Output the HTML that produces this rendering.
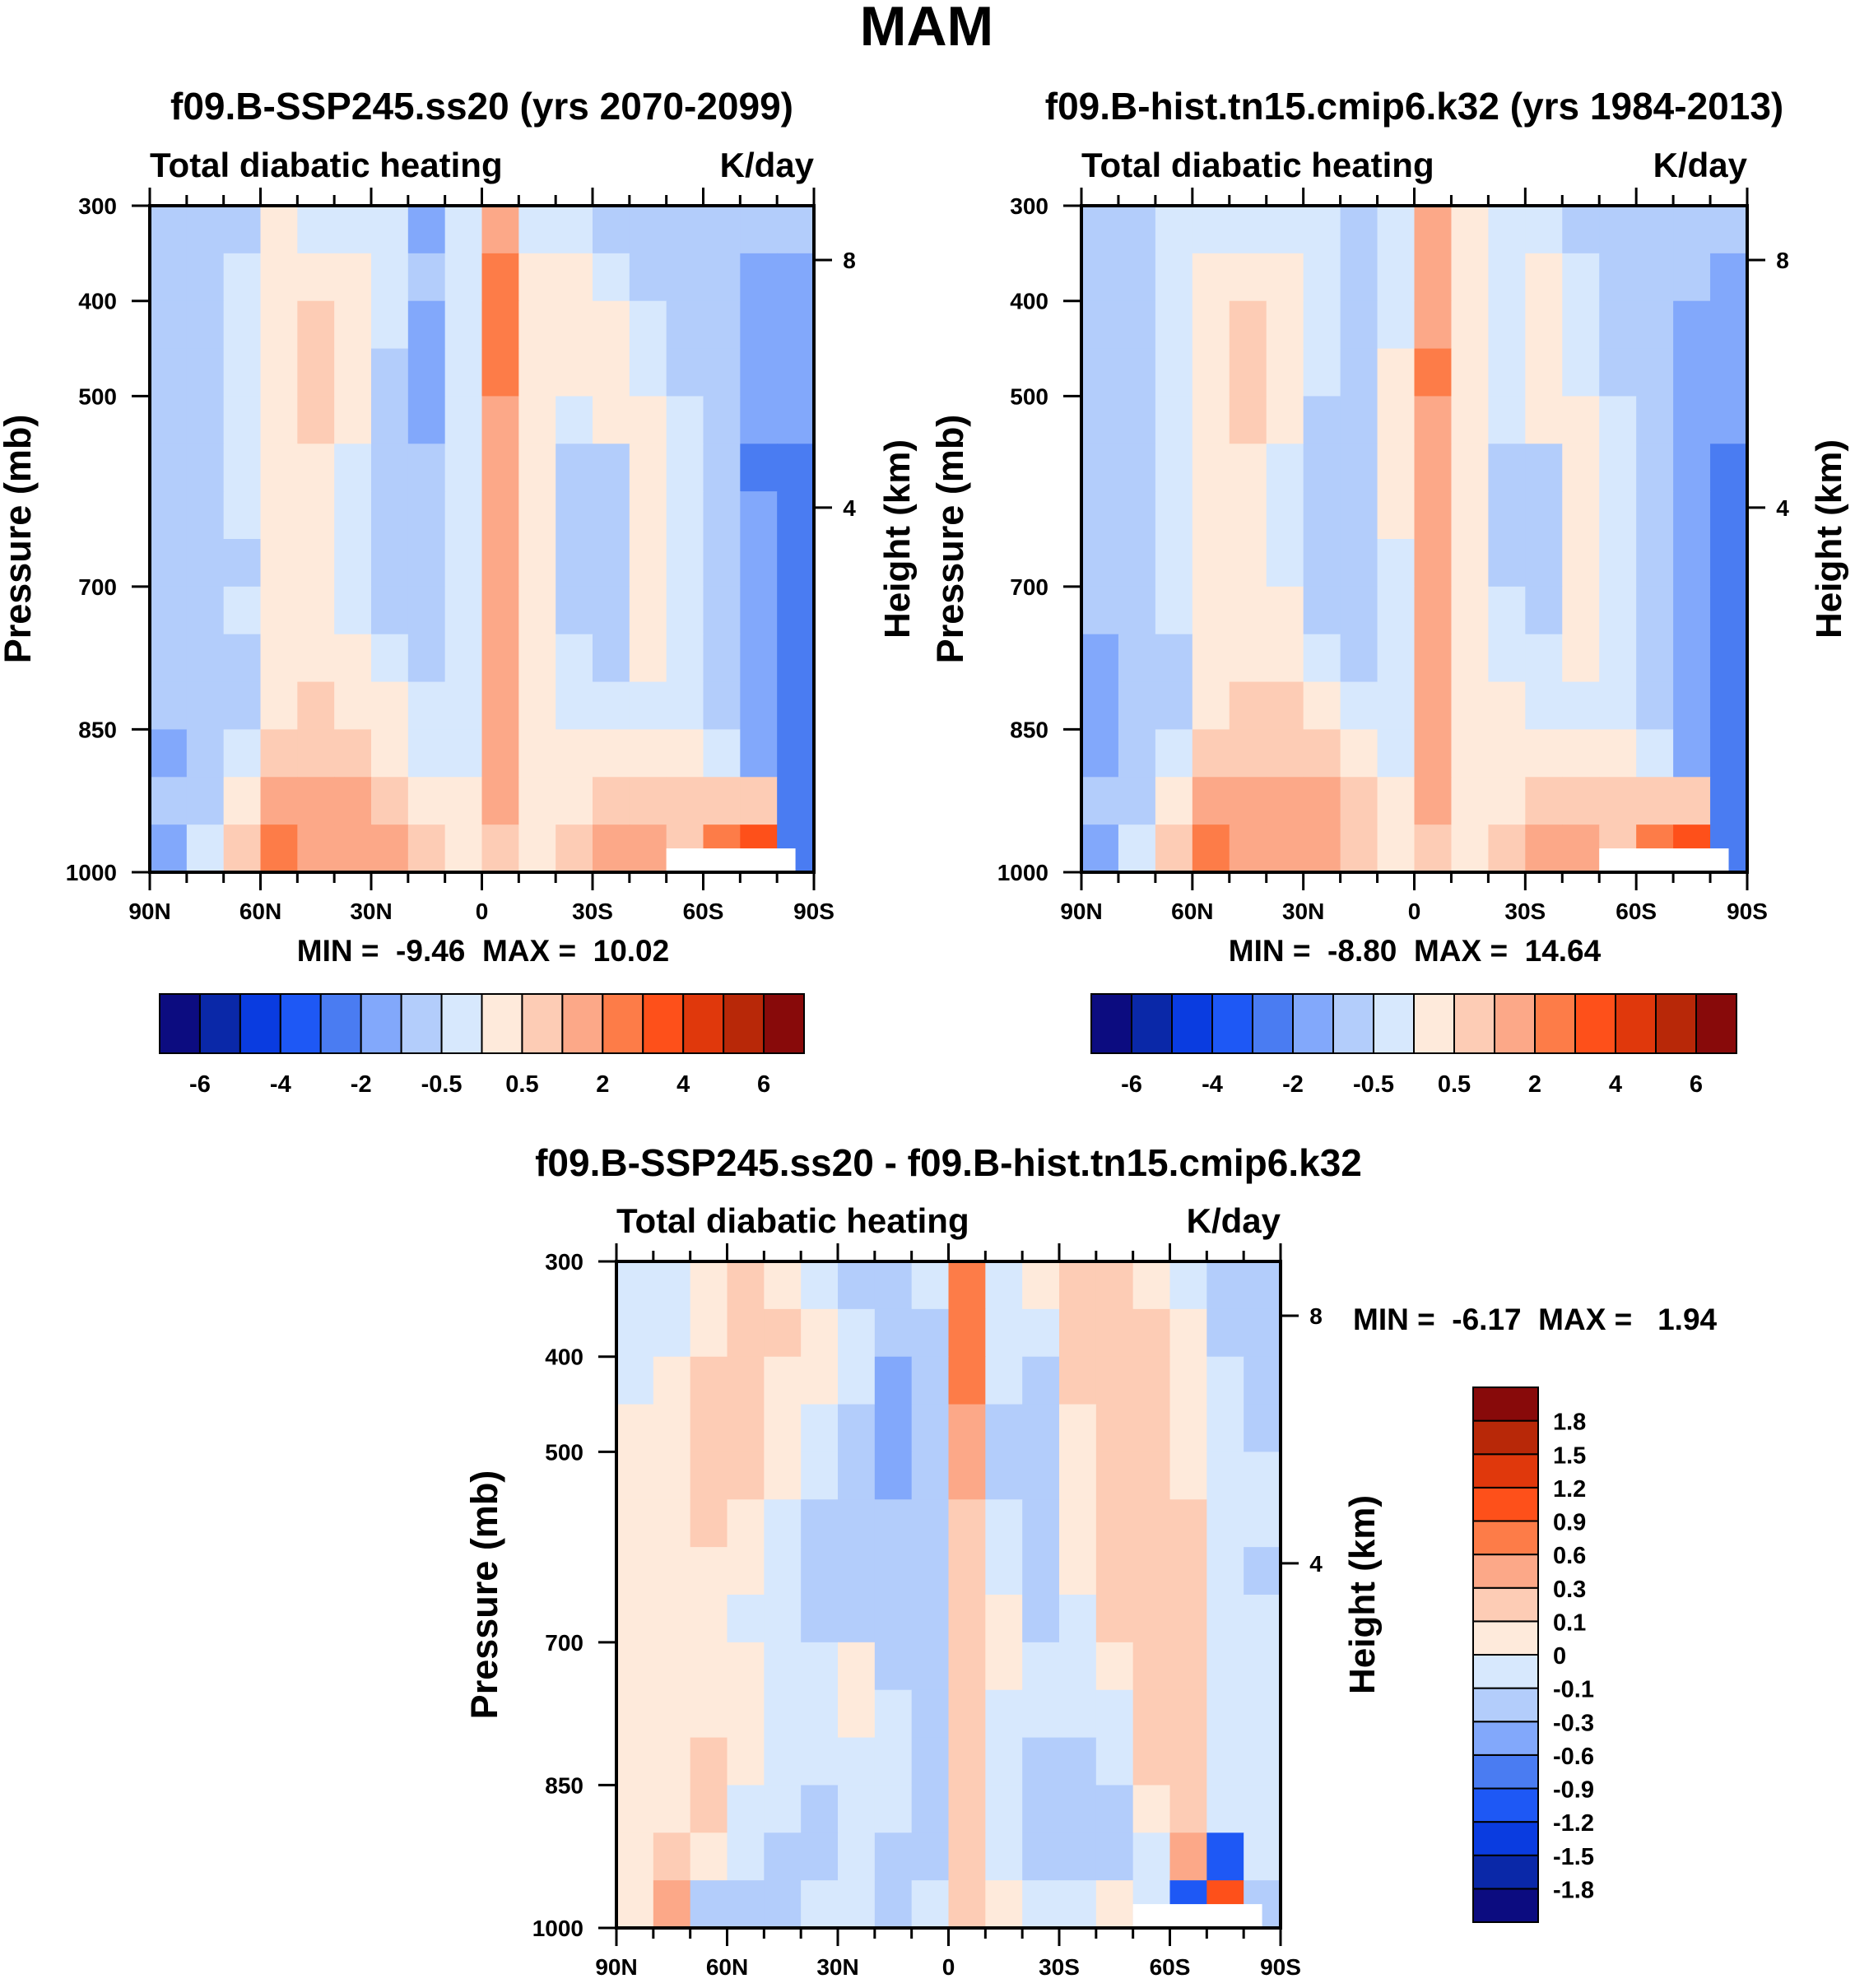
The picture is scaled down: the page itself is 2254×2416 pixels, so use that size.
<!DOCTYPE html>
<html><head><meta charset="utf-8"><style>
html,body{margin:0;padding:0;background:#fff}
svg{display:block}
text{font-family:"Liberation Sans",Arial,sans-serif;font-weight:bold;fill:#000}
</style></head><body>
<svg id="fig" width="2254" height="2416" viewBox="0 0 2254 2416" xmlns="http://www.w3.org/2000/svg">
<text x="1126" y="55" font-size="68" text-anchor="middle">MAM</text>
</svg>
<script>
// ---- data ----
const lats=[90,80,70,60,50,40,30,20,10,0,-10,-20,-30,-40,-50,-60,-70,-80,-90];
const levels=[300,350,400,450,500,550,600,650,700,750,800,850,900,950,1000];
const pTicks=[300,400,500,700,850,1000];
const latTickLabels=["90N","60N","30N","0","30S","60S","90S"];
const latTickVals=[90,60,30,0,-30,-60,-90];
const heightTicks=[{km:8,p:357},{km:4,p:617}];
const palette=["#0c0c80","#0a28a8","#0a3ce0","#1e58f5","#4a7cf2","#82a8fb","#b3cdfb","#d7e8fd","#feeadb","#fdccb5","#fca888","#fd7c48","#fe501a","#e0380c","#b82808","#880a0a"];
const absLevels=[-6,-5,-4,-3,-2,-1,-0.5,0,0.5,1,2,3,4,5,6];
const absLabels=["-6","-4","-2","-0.5","0.5","2","4","6"];
const diffLevels=[-1.8,-1.5,-1.2,-0.9,-0.6,-0.3,-0.1,0,0.1,0.3,0.6,0.9,1.2,1.5,1.8];
const diffLabels=["-1.8","-1.5","-1.2","-0.9","-0.6","-0.3","-0.1","0","0.1","0.3","0.6","0.9","1.2","1.5","1.8"];
const futVals=[
[-0.7,-0.7,-0.7,0.3,-0.3,-0.3,-0.3,-1.5,-0.3,1.5,-0.3,-0.3,-0.7,-0.7,-0.7,-0.7,-0.7,-0.7],
[-0.7,-0.7,-0.3,0.3,0.3,0.3,-0.3,-0.7,-0.3,2.5,0.3,0.3,-0.3,-0.7,-0.7,-0.7,-1.5,-1.5],
[-0.7,-0.7,-0.3,0.3,0.7,0.3,-0.3,-1.5,-0.3,2.5,0.3,0.3,0.3,-0.3,-0.7,-0.7,-1.5,-1.5],
[-0.7,-0.7,-0.3,0.3,0.7,0.3,-0.7,-1.5,-0.3,2.5,0.3,0.3,0.3,-0.3,-0.7,-0.7,-1.5,-1.5],
[-0.7,-0.7,-0.3,0.3,0.7,0.3,-0.7,-1.5,-0.3,1.5,0.3,-0.3,0.3,0.3,-0.3,-0.7,-1.5,-1.5],
[-0.7,-0.7,-0.3,0.3,0.3,-0.3,-0.7,-0.7,-0.3,1.5,0.3,-0.7,-0.7,0.3,-0.3,-0.7,-3,-3],
[-0.7,-0.7,-0.3,0.3,0.3,-0.3,-0.7,-0.7,-0.3,1.5,0.3,-0.7,-0.7,0.3,-0.3,-0.7,-1.5,-3],
[-0.7,-0.7,-0.7,0.3,0.3,-0.3,-0.7,-0.7,-0.3,1.5,0.3,-0.7,-0.7,0.3,-0.3,-0.7,-1.5,-3],
[-0.7,-0.7,-0.3,0.3,0.3,-0.3,-0.7,-0.7,-0.3,1.5,0.3,-0.7,-0.7,0.3,-0.3,-0.7,-1.5,-3],
[-0.7,-0.7,-0.7,0.3,0.3,0.3,-0.3,-0.7,-0.3,1.5,0.3,-0.3,-0.7,0.3,-0.3,-0.7,-1.5,-3],
[-0.7,-0.7,-0.7,0.3,0.7,0.3,0.3,-0.3,-0.3,1.5,0.3,-0.3,-0.3,-0.3,-0.3,-0.7,-1.5,-3],
[-1.5,-0.7,-0.3,0.7,0.7,0.7,0.3,-0.3,-0.3,1.5,0.3,0.3,0.3,0.3,0.3,-0.3,-1.5,-3],
[-0.7,-0.7,0.3,1.5,1.5,1.5,0.7,0.3,0.3,1.5,0.3,0.3,0.7,0.7,0.7,0.7,0.7,-3],
[-1.5,-0.3,0.7,2.5,1.5,1.5,1.5,0.7,0.3,0.7,0.3,0.7,1.5,1.5,0.7,2.5,3.5,-3]];
const histVals=[
[-0.7,-0.7,-0.3,-0.3,-0.3,-0.3,-0.3,-0.7,-0.3,1.5,0.3,-0.3,-0.3,-0.7,-0.7,-0.7,-0.7,-0.7],
[-0.7,-0.7,-0.3,0.3,0.3,0.3,-0.3,-0.7,-0.3,1.5,0.3,-0.3,0.3,-0.3,-0.7,-0.7,-0.7,-1.5],
[-0.7,-0.7,-0.3,0.3,0.7,0.3,-0.3,-0.7,-0.3,1.5,0.3,-0.3,0.3,-0.3,-0.7,-0.7,-1.5,-1.5],
[-0.7,-0.7,-0.3,0.3,0.7,0.3,-0.3,-0.7,0.3,2.5,0.3,-0.3,0.3,-0.3,-0.7,-0.7,-1.5,-1.5],
[-0.7,-0.7,-0.3,0.3,0.7,0.3,-0.7,-0.7,0.3,1.5,0.3,-0.3,0.3,0.3,-0.3,-0.7,-1.5,-1.5],
[-0.7,-0.7,-0.3,0.3,0.3,-0.3,-0.7,-0.7,0.3,1.5,0.3,-0.7,-0.7,0.3,-0.3,-0.7,-1.5,-3],
[-0.7,-0.7,-0.3,0.3,0.3,-0.3,-0.7,-0.7,0.3,1.5,0.3,-0.7,-0.7,0.3,-0.3,-0.7,-1.5,-3],
[-0.7,-0.7,-0.3,0.3,0.3,-0.3,-0.7,-0.7,-0.3,1.5,0.3,-0.7,-0.7,0.3,-0.3,-0.7,-1.5,-3],
[-0.7,-0.7,-0.3,0.3,0.3,0.3,-0.7,-0.7,-0.3,1.5,0.3,-0.3,-0.7,0.3,-0.3,-0.7,-1.5,-3],
[-1.5,-0.7,-0.7,0.3,0.3,0.3,-0.3,-0.7,-0.3,1.5,0.3,-0.3,-0.3,0.3,-0.3,-0.7,-1.5,-3],
[-1.5,-0.7,-0.7,0.3,0.7,0.7,0.3,-0.3,-0.3,1.5,0.3,0.3,-0.3,-0.3,-0.3,-0.7,-1.5,-3],
[-1.5,-0.7,-0.3,0.7,0.7,0.7,0.7,0.3,-0.3,1.5,0.3,0.3,0.3,0.3,0.3,-0.3,-1.5,-3],
[-0.7,-0.7,0.3,1.5,1.5,1.5,1.5,0.7,0.3,1.5,0.3,0.3,0.7,0.7,0.7,0.7,0.7,-3],
[-1.5,-0.3,0.7,2.5,1.5,1.5,1.5,0.7,0.3,0.7,0.3,0.7,1.5,1.5,0.7,2.5,3.5,-3]];
const diffVals=[
[-0.05,-0.05,0.05,0.2,0.05,-0.05,-0.2,-0.2,-0.05,0.7,-0.05,0.05,0.2,0.2,0.05,-0.05,-0.2,-0.2],
[-0.05,-0.05,0.05,0.2,0.2,0.05,-0.05,-0.2,-0.2,0.7,-0.05,-0.05,0.2,0.2,0.2,0.05,-0.2,-0.2],
[-0.05,0.05,0.2,0.2,0.05,0.05,-0.05,-0.4,-0.2,0.7,-0.05,-0.2,0.2,0.2,0.2,0.05,-0.05,-0.2],
[0.05,0.05,0.2,0.2,0.05,-0.05,-0.2,-0.4,-0.2,0.4,-0.2,-0.2,0.05,0.2,0.2,0.05,-0.05,-0.2],
[0.05,0.05,0.2,0.2,0.05,-0.05,-0.2,-0.4,-0.2,0.4,-0.2,-0.2,0.05,0.2,0.2,0.05,-0.05,-0.05],
[0.05,0.05,0.2,0.05,-0.05,-0.2,-0.2,-0.2,-0.2,0.2,-0.05,-0.2,0.05,0.2,0.2,0.2,-0.05,-0.05],
[0.05,0.05,0.05,0.05,-0.05,-0.2,-0.2,-0.2,-0.2,0.2,-0.05,-0.2,0.05,0.2,0.2,0.2,-0.05,-0.2],
[0.05,0.05,0.05,-0.05,-0.05,-0.2,-0.2,-0.2,-0.2,0.2,0.05,-0.2,-0.05,0.2,0.2,0.2,-0.05,-0.05],
[0.05,0.05,0.05,0.05,-0.05,-0.05,0.05,-0.2,-0.2,0.2,0.05,-0.05,-0.05,0.05,0.2,0.2,-0.05,-0.05],
[0.05,0.05,0.05,0.05,-0.05,-0.05,0.05,-0.05,-0.2,0.2,-0.05,-0.05,-0.05,-0.05,0.2,0.2,-0.05,-0.05],
[0.05,0.05,0.2,0.05,-0.05,-0.05,-0.05,-0.05,-0.2,0.2,-0.05,-0.2,-0.2,-0.05,0.2,0.2,-0.05,-0.05],
[0.05,0.05,0.2,-0.05,-0.05,-0.2,-0.05,-0.05,-0.2,0.2,-0.05,-0.2,-0.2,-0.2,0.05,0.2,-0.05,-0.05],
[0.05,0.2,0.05,-0.05,-0.2,-0.2,-0.05,-0.2,-0.2,0.2,-0.05,-0.2,-0.2,-0.2,-0.05,0.4,-1.0,-0.05],
[0.05,0.4,-0.2,-0.2,-0.2,-0.05,-0.05,-0.2,-0.05,0.2,0.05,-0.05,-0.05,0.05,-0.05,-1.0,1.0,-0.2]];

// ---- drawing ----
const NS="http://www.w3.org/2000/svg";
const svg=document.getElementById('fig');
function el(tag,attrs,parent){const e=document.createElementNS(NS,tag);for(const k in attrs)e.setAttribute(k,attrs[k]);(parent||svg).appendChild(e);return e;}
function txt(x,y,s,size,anchor,parent,rot){const t=el('text',{x:x,y:y,'font-size':size,'text-anchor':anchor||'start'},parent);if(rot)t.setAttribute('transform',`rotate(${rot} ${x} ${y})`);t.textContent=s;return t;}
function colorIdx(v,lv){let i=0;while(i<lv.length&&v>=lv[i])i++;return i;}

function panel(o){
  const g=el('g',{});
  
  
  const L=o.x0,R=o.x1,T=o.y0,B=o.y1;
  const xs=lat=>L+(90-lat)/180*(R-L);
  const ys=p=>T+(p-300)/700*(B-T);
  const cells=el('g',{},g);
  
  
  o.vals.forEach((row,r)=>row.forEach((v,c)=>{
    const x=xs(lats[c]),w=xs(lats[c+1])-x,y=ys(levels[r]),h=ys(levels[r+1])-y;
    const rc=el('rect',{x:x,y:y,width:w+0.6,height:h+0.6,fill:palette[colorIdx(v,o.lv)]},cells);
    
    
  }));
  const miss=el('rect',{x:xs(-50),y:ys(975),width:xs(-85)-xs(-50),height:ys(1000)-ys(975),fill:'#fff'},g);
  
  
  const fr=el('rect',{x:L,y:T,width:R-L,height:B-T,fill:'none',stroke:'#000','stroke-width':4},g);
  
  
  for(let lat=90;lat>=-90;lat-=10){
    const major=lat%30===0, len=major?22:13;
    el('line',{x1:xs(lat),x2:xs(lat),y1:T,y2:T-len,stroke:'#000','stroke-width':3},g);
    el('line',{x1:xs(lat),x2:xs(lat),y1:B,y2:B+len,stroke:'#000','stroke-width':3},g);
  }
  latTickVals.forEach((lat,i)=>{const t=txt(xs(lat),B+57,latTickLabels[i],28,'middle',g);});
  pTicks.forEach(p=>{el('line',{x1:L,x2:L-22,y1:ys(p),y2:ys(p),stroke:'#000','stroke-width':3},g);
    const t=txt(L-40,ys(p)+10,String(p),28,'end',g);});
  heightTicks.forEach(h=>{el('line',{x1:R,x2:R+22,y1:ys(h.p),y2:ys(h.p),stroke:'#000','stroke-width':3},g);
    const t=txt(R+43,ys(h.p)+10,String(h.km),28,'middle',g);});
  const t1=txt(L,T-35,'Total diabatic heating',42,'start',g);
  const t2=txt(R,T-35,'K/day',42,'end',g);
  const t3=txt((L+R)/2,o.titleY,o.title,46,'middle',g);
  const yl=txt(o.pLabX,(T+B)/2,'Pressure (mb)',45,'middle',g,-90);
  const hl=txt(o.hLabX,(T+B)/2,'Height (km)',44,'middle',g,-90);
  const mm=txt(o.mmX,o.mmY,o.minmax,37,o.mmAnchor,g);
  mm.setAttribute('xml:space','preserve');mm.style.whiteSpace='pre';
}
function hbar(x0,x1,y0,y1,name){
  const g=el('g',{});
  
  
  const w=(x1-x0)/16;
  palette.forEach((c,i)=>el('rect',{x:x0+i*w,y:y0,width:w,height:y1-y0,fill:c,stroke:'#000','stroke-width':2},g));
  absLabels.forEach((s,i)=>{const t=txt(x0+(2*i+1)*w,y1+47,s,29,'middle',g);});
}
panel({name:'panel-future',x0:182,x1:989,y0:250,y1:1060,vals:futVals,lv:absLevels,title:'f09.B-SSP245.ss20 (yrs 2070-2099)',titleY:145,pLabX:37,hLabX:1105,minmax:'MIN =  -9.46  MAX =  10.02',mmX:587,mmY:1168,mmAnchor:'middle'});
panel({name:'panel-historical',x0:1314,x1:2123,y0:250,y1:1060,vals:histVals,lv:absLevels,title:'f09.B-hist.tn15.cmip6.k32 (yrs 1984-2013)',titleY:145,pLabX:1170,hLabX:2237,minmax:'MIN =  -8.80  MAX =  14.64',mmX:1719,mmY:1168,mmAnchor:'middle'});
panel({name:'panel-difference',x0:749,x1:1556,y0:1533,y1:2343,vals:diffVals,lv:diffLevels,title:'f09.B-SSP245.ss20 - f09.B-hist.tn15.cmip6.k32',titleY:1429,pLabX:604,hLabX:1670,minmax:'MIN =  -6.17  MAX =   1.94',mmX:1644,mmY:1616,mmAnchor:'start'});
hbar(194,977,1208,1280,'colorbar-future');
hbar(1326,2110,1208,1280,'colorbar-historical');
(function(){
  const g=el('g',{});
  
  
  const x0=1790,x1=1869,y0=1686,y1=2336,h=(y1-y0)/16;
  palette.forEach((c,i)=>el('rect',{x:x0,y:y1-(i+1)*h,width:x1-x0,height:h,fill:c,stroke:'#000','stroke-width':2},g));
  diffLabels.forEach((s,i)=>{const t=txt(1887,y1-(i+1)*h+11,s,29,'start',g);});
})();
</script>
</body></html>
